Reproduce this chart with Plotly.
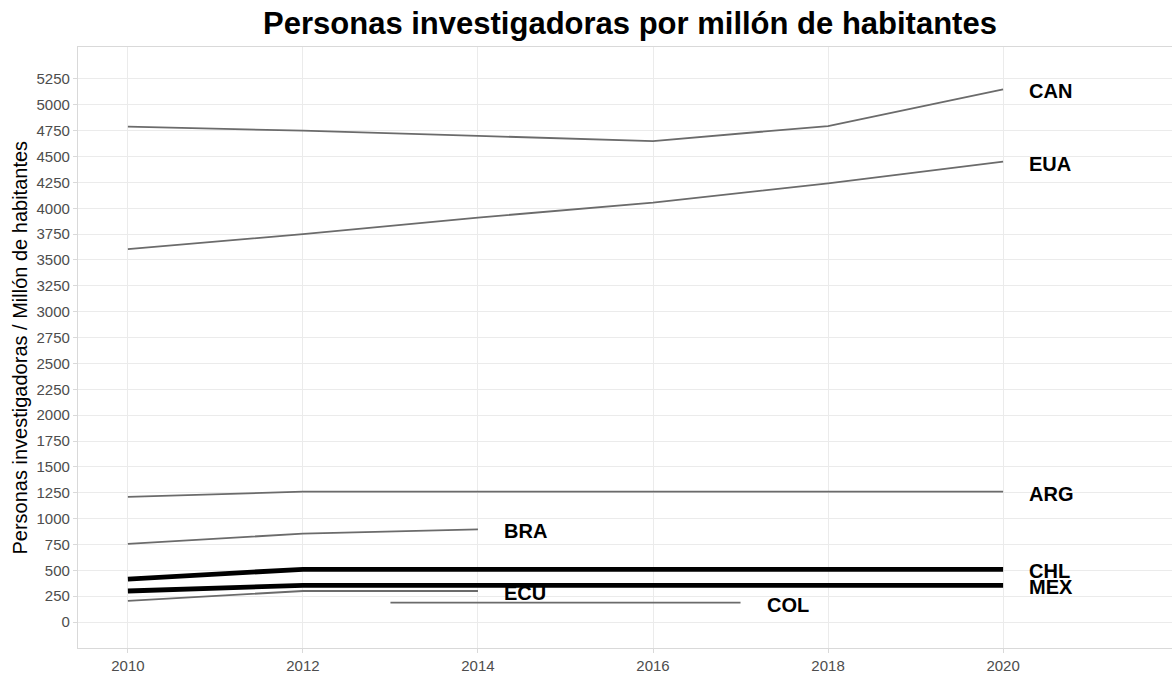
import plotly.graph_objects as go

# ---- data ----
years_main = [2010, 2012, 2014, 2016, 2018, 2020]
can = [4790, 4750, 4700, 4650, 4795, 5150]
eua = [3605, 3750, 3910, 4055, 4240, 4450]
arg = [1210, 1260, 1260, 1260, 1260, 1260]
chl = [415, 510, 510, 510, 510, 510]
mex = [300, 355, 355, 355, 355, 355]
years_short = [2010, 2012, 2014]
bra = [755, 855, 895]
ecu = [205, 300, 300]
years_col = [2013, 2017]
col = [187, 187]

series = [
    ("CAN", years_main, can, False),
    ("EUA", years_main, eua, False),
    ("ARG", years_main, arg, False),
    ("BRA", years_short, bra, False),
    ("ECU", years_short, ecu, False),
    ("COL", years_col, col, False),
    ("CHL", years_main, chl, True),
    ("MEX", years_main, mex, True),
]

y_ticks = list(range(0, 5251, 250))
x_ticks = [2010, 2012, 2014, 2016, 2018, 2020]

FONT = "Liberation Sans, Arial, sans-serif"

fig = go.Figure()
annotations = []
for name, xs, ys, highlight in series:
    fig.add_trace(go.Scatter(
        x=xs, y=ys, mode="lines", name=name, showlegend=False,
        line=dict(color="black" if highlight else "#6b6b6b",
                  width=4.8 if highlight else 1.8),
        hoverinfo="x+y+name",
    ))
    annotations.append(dict(
        x=xs[-1], y=ys[-1], xref="x", yref="y", text=name, showarrow=False,
        xanchor="left", yanchor="middle", xshift=24, yshift=-2,
        font=dict(family=FONT, size=20, color="black", weight="bold"),
    ))

annotations.append(dict(
    text="Personas investigadoras / Millón de habitantes",
    xref="paper", yref="paper", x=-(78 - 19) / 1094, y=0.5,
    xanchor="center", yanchor="middle", textangle=-90, showarrow=False,
    font=dict(family=FONT, size=20, color="black"),
))

fig.update_layout(
    width=1172, height=675,
    margin=dict(l=78, r=0, t=47, b=27),
    paper_bgcolor="white", plot_bgcolor="white",
    title=dict(text="<b>Personas investigadoras por millón de habitantes</b>",
               x=630 / 1172, xanchor="center",
               y=1 - 23 / 675, yanchor="middle", yref="container",
               font=dict(family=FONT, size=31, color="black")),
    annotations=annotations,
    xaxis=dict(range=[2009.43, 2021.93], tickmode="array", tickvals=x_ticks,
               ticktext=[str(v) for v in x_ticks], automargin=False,
               showgrid=True, gridcolor="#ebebeb", gridwidth=1,
               zeroline=False, showline=True, linecolor="#d9d9d9", linewidth=1.2,
               mirror=True, ticks="outside", ticklen=4, tickcolor="#d9d9d9",
               tickfont=dict(family=FONT, size=15, color="#4d4d4d")),
    yaxis=dict(range=[-251, 5559], tickmode="array", tickvals=y_ticks,
               ticktext=[str(v) for v in y_ticks], automargin=False,
               showgrid=True, gridcolor="#ebebeb", gridwidth=1,
               zeroline=False, showline=True, linecolor="#d9d9d9", linewidth=1.2,
               ticks="outside", ticklen=4, tickcolor="#d9d9d9",
               tickfont=dict(family=FONT, size=15, color="#4d4d4d")),
)

fig.write_html("out.html", config={"displayModeBar": False},
               post_script="document.body.style.margin='0';")
